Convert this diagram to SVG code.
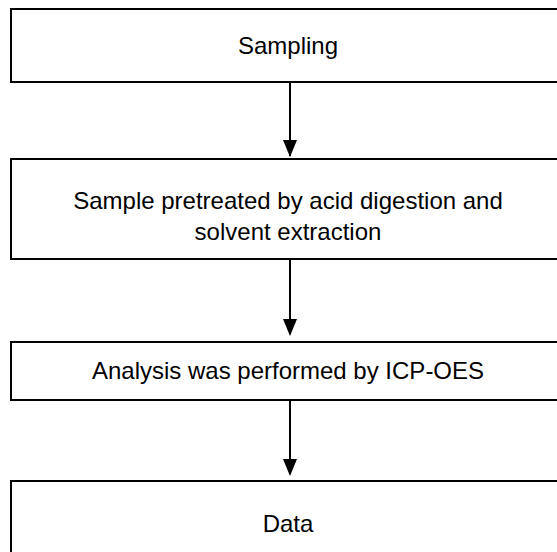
<svg xmlns="http://www.w3.org/2000/svg" width="557" height="552" viewBox="0 0 557 552">
<style>
.box{fill:#fff;stroke:#000;stroke-width:2}
.lbl{font-family:"Liberation Sans",Arial,sans-serif;font-size:24px;fill:#000;text-anchor:middle}
.conn{stroke:#000;stroke-width:2;fill:none}
.head{fill:#000}
</style>
<rect width="557" height="552" fill="#fff"/>
<g id="n1"><rect class="box" x="11" y="9" width="560" height="73"/><text class="lbl" x="288" y="54">Sampling</text></g>
<g id="n2"><rect class="box" x="11" y="159" width="560" height="100"/><text class="lbl" x="288" y="209">Sample pretreated by acid digestion and</text><text class="lbl" x="288" y="240">solvent extraction</text></g>
<g id="n3"><rect class="box" x="11" y="342" width="560" height="58"/><text class="lbl" x="288" y="379">Analysis was performed by ICP-OES</text></g>
<g id="n4"><rect class="box" x="11" y="481" width="560" height="90"/><text class="lbl" x="288" y="532">Data</text></g>
<g id="connectors">
<path class="conn" d="M290,82 V156"/>
<path class="head" d="M283,140 L297,140 L290,157 Z"/>
<path class="conn" d="M290,259 V334"/>
<path class="head" d="M283,319 L297,319 L290,336 Z"/>
<path class="conn" d="M290,400 V474"/>
<path class="head" d="M283,459 L297,459 L290,476 Z"/>
</g>
</svg>
